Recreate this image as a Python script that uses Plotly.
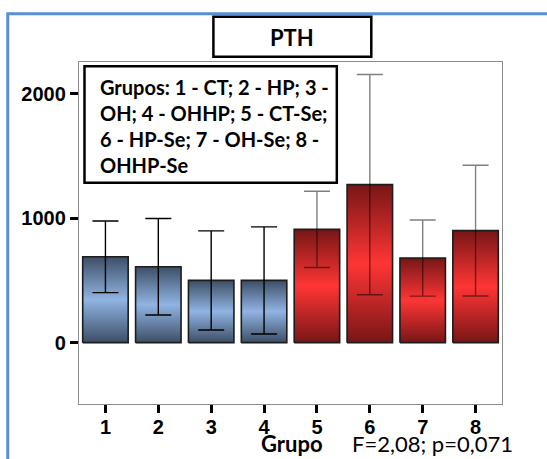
import plotly.graph_objects as go

# ---- data ----
groups = [1, 2, 3, 4, 5, 6, 7, 8]
group_labels = ["1", "2", "3", "4", "5", "6", "7", "8"]
means = [690, 610, 500, 500, 910, 1270, 680, 900]
errors = [288, 388, 398, 430, 306, 885, 306, 525]
is_se = [False, False, False, False, True, True, True, True]
y_ticks = [0, 1000, 2000]
y_tick_labels = ["0", "1000", "2000"]
title_text = "PTH"
legend_lines = ["Grupos: 1 - CT; 2 - HP; 3 -", "OH; 4 - OHHP; 5 - CT-Se;",
                "6 - HP-Se; 7 - OH-Se; 8 -", "OHHP-Se"]
x_title = "Grupo"
stat_text = "F=2,08; p=0,071"

# ---- geometry / style ----
W, H = 547, 459
L, R, T, B = 79, 502.3, 62.3, 404
PW, PH = R - L, B - T
BAR_W = 0.86
BLUE_DARK, BLUE_LIGHT = "#3d4e66", "#90b4e3"
RED_DARK, RED_LIGHT = "#771616", "#ff3535"
FRAME_BLUE = "#5a8ed5"


def px(x):
    return (x - L) / PW


def py(y):
    return (B - y) / PH


fig = go.Figure()

for g, m, se in zip(groups, means, is_se):
    dark, light = (RED_DARK, RED_LIGHT) if se else (BLUE_DARK, BLUE_LIGHT)
    x0, x1 = g - BAR_W / 2, g + BAR_W / 2
    fig.add_trace(go.Scatter(
        x=[x0, x1, x1, x0, x0], y=[0, 0, m, m, 0],
        mode="lines", fill="toself",
        line=dict(color="#1c1c1c", width=1.6),
        fillgradient=dict(type="vertical",
                          colorscale=[[0, dark], [0.5, light], [1, dark]]),
        hoverinfo="skip", showlegend=False))

for flag, col in [(False, "#000000"), (True, "rgba(0,0,0,0.5)")]:
    xs = [g for g, s in zip(groups, is_se) if s == flag]
    ys = [m for m, s in zip(means, is_se) if s == flag]
    es = [e for e, s in zip(errors, is_se) if s == flag]
    fig.add_trace(go.Scatter(
        x=xs, y=ys, mode="markers", marker=dict(size=1, opacity=0),
        error_y=dict(type="data", array=es, visible=True, color=col,
                     thickness=1.4, width=13),
        hoverinfo="skip", showlegend=False))

tick_font = dict(family="Arial, Liberation Sans, sans-serif",
                 size=20, color="black", weight="bold")

fig.update_layout(
    width=W, height=H,
    margin=dict(l=L, r=W - R, t=T, b=H - B),
    paper_bgcolor="white", plot_bgcolor="white",
    showlegend=False,
    xaxis=dict(range=[0.5, 8.5], tickvals=groups, ticktext=group_labels,
               ticks="outside", ticklen=8, tickwidth=3, tickcolor="black",
               ticklabelstandoff=-3,
               showline=True, linecolor="#8c8c8c", linewidth=1.3, mirror=True,
               showgrid=False, zeroline=False, tickfont=tick_font, fixedrange=True),
    yaxis=dict(range=[-493, 2255], tickvals=y_ticks, ticktext=y_tick_labels,
               ticks="outside", ticklen=8, tickwidth=3, tickcolor="black",
               showline=True, linecolor="#8c8c8c", linewidth=1.3, mirror=True,
               showgrid=False, zeroline=False, tickfont=tick_font, fixedrange=True),
)

shapes = [
    # outer blue frame (top and left)
    dict(type="path", xref="paper", yref="paper",
         path=f"M {px(7.7)} {py(470)} L {px(7.7)} {py(14)} L {px(560)} {py(14)}",
         line=dict(color=FRAME_BLUE, width=3)),
    # title box
    dict(type="rect", xref="paper", yref="paper",
         x0=px(213.5), x1=px(371.5), y0=py(57), y1=py(17),
         line=dict(color="black", width=2.5), fillcolor="white"),
    # legend box
    dict(type="rect", xref="paper", yref="paper",
         x0=px(84.5), x1=px(337), y0=py(183), y1=py(66.5),
         line=dict(color="black", width=2.5), fillcolor="white"),
]
fig.update_layout(shapes=shapes)

lato_b = dict(family="Lato, Open Sans, sans-serif", color="black", weight="bold")
annotations = [
    dict(text=title_text, x=px(292.5), y=py(37.5), xref="paper", yref="paper",
         xanchor="center", yanchor="middle", showarrow=False,
         font=dict(size=22, **lato_b)),
    dict(text="<br>".join(legend_lines), x=px(98.5), y=py(126.5),
         xref="paper", yref="paper", xanchor="left", yanchor="middle",
         align="left", showarrow=False, font=dict(size=20, **lato_b)),
    dict(text=x_title, x=px(292.6), y=py(443), xref="paper", yref="paper",
         xanchor="center", yanchor="middle", showarrow=False,
         font=dict(size=22, **lato_b)),
    dict(text=stat_text, x=px(350), y=py(443), xref="paper", yref="paper",
         xanchor="left", yanchor="middle", showarrow=False,
         font=dict(size=22, family="Lato, Open Sans, sans-serif", color="black")),
]
fig.update_layout(annotations=annotations)

fig.write_html("out.html", config={"displayModeBar": False})

# remove the browser's default page margin so the figure sits at (0, 0)
with open("out.html", encoding="utf-8") as f:
    html = f.read()
html = html.replace("<head>", "<head><style>html,body{margin:0;padding:0;overflow:hidden;}</style>", 1)
with open("out.html", "w", encoding="utf-8") as f:
    f.write(html)
